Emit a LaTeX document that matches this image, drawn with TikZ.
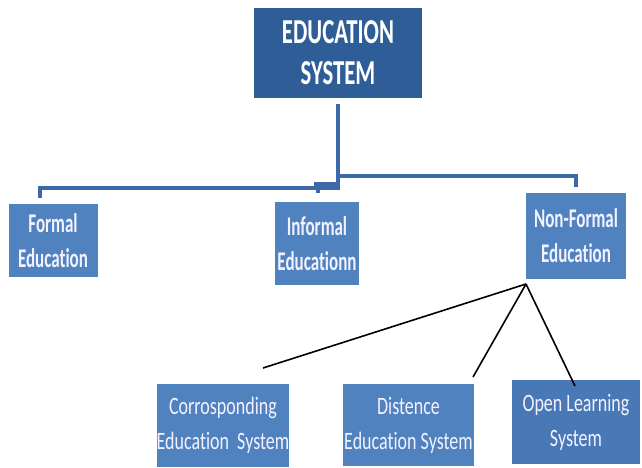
\documentclass[tikz,border=0pt]{standalone}
\usepackage{fontspec}
\setmainfont{Carlito}[FakeStretch=0.63, Ligatures=NoCommon]
\newfontfamily\topfont{Carlito}[FakeStretch=0.65, Ligatures=NoCommon]
\newfontfamily\lowfont{Carlito}[FakeStretch=0.72, Ligatures=NoCommon]
\begin{document}
\begin{tikzpicture}[x=1pt,y=-1pt,
  topbox/.style={fill=topblue, draw=none, inner sep=0pt, align=center, text=white,
    font=\topfont\bfseries\fontsize{35}{41}\selectfont, minimum width=168pt, minimum height=90pt},
  midbox/.style={fill=boxblue, draw=none, inner sep=0pt, align=center, text=white!95!blue,
    font=\bfseries\fontsize{27}{35}\selectfont},
  lowbox/.style={fill=boxblue, draw=none, inner sep=0pt, align=center, text=white!95!blue,
    font=\lowfont\fontsize{25}{35}\selectfont},
  tree/.style={draw=lineblue, line width=3.5pt},
  fan/.style={draw=black, line width=1.6pt}]
\definecolor{topblue}{HTML}{2F5D98}
\definecolor{boxblue}{HTML}{5082C0}
\definecolor{openblue}{HTML}{4878B6}
\definecolor{lineblue}{HTML}{3D69A8}
\useasboundingbox (0,0) rectangle (642,468);
\fill[white] (0,0) rectangle (642,468);

\node[topbox] (top) at (338,53) {EDUCATION\\SYSTEM};

\node[midbox, minimum width=89pt, minimum height=73pt] (formal) at (53,240.5) {Formal\\Education};
\node[midbox, minimum width=84pt, minimum height=83pt] (informal) at (317,243.5) {Informal\\Educationn};
\node[midbox, minimum width=100pt, minimum height=86pt] (nonformal) at (576,236) {Non-Formal\\Education};

\node[lowbox, minimum width=130pt, minimum height=83pt] (corr) at (223,425.5) {Corrosponding\\Education\ \ System};
\node[lowbox, minimum width=131pt, minimum height=82pt] (dist) at (408.5,425) {Distence\\Education System};
\node[lowbox, fill=openblue, minimum width=128pt, minimum height=84pt] (open) at (576,422) {Open Learning\\System};

% tree connectors
\coordinate (vtop) at (338,104);
\coordinate (vjoin) at (338,188);
\coordinate (rjoin) at (338,176);
\coordinate (rtick) at (576,176);
\coordinate (rend) at (576,187);
\coordinate (ltick) at (40,188);
\coordinate (lend) at (40,198);
\coordinate (itick) at (318,188);
\coordinate (iend) at (318,193);
\draw[tree] (vtop) -- (vjoin) -- (ltick) -- (lend);
\draw[tree] (rjoin) -- (rtick) -- (rend);
\draw[tree] (itick) -- (iend);
\fill[lineblue] (314,182) rectangle (336,190);

% fan connectors
\coordinate (apex) at (526,284);
\coordinate (cend) at (263,368);
\coordinate (dend) at (473,377);
\coordinate (oend) at (575,386);
\draw[fan] (apex) -- (cend);
\draw[fan] (apex) -- (dend);
\draw[fan] (apex) -- (oend);
\end{tikzpicture}
\end{document}
